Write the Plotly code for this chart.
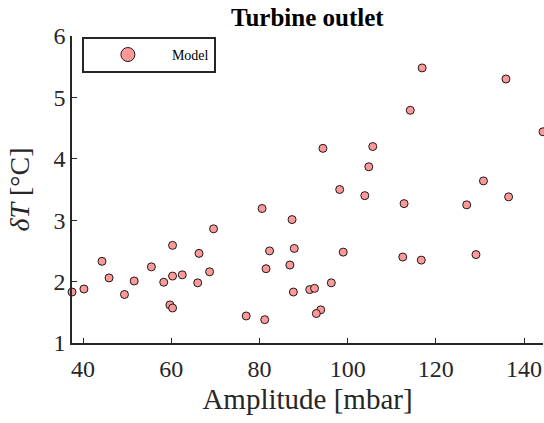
import plotly.graph_objects as go

amplitude = [37.5, 40.2, 44.3, 45.9, 49.4, 51.6, 55.5, 58.3, 60.3, 60.3, 59.7, 60.3,
             62.5, 66.3, 66.0, 68.7, 69.6,
             80.6, 87.4, 82.3, 87.9, 99.0, 81.5, 86.9, 96.3, 87.7, 91.4, 92.5, 93.9,
             92.9, 77.0, 81.2,
             112.8, 127.0, 112.5, 116.7, 129.1,
             94.4, 105.7, 104.8, 98.2, 103.9,
             116.9, 135.9, 114.2, 144.3, 130.8, 136.5]
delta_t = [1.83, 1.88, 2.33, 2.06, 1.79, 2.01, 2.24, 1.99, 2.59, 2.09, 1.62, 1.57,
           2.11, 2.46, 1.98, 2.16, 2.86,
           3.19, 3.01, 2.50, 2.54, 2.48, 2.21, 2.27, 1.98, 1.83, 1.87, 1.89, 1.54,
           1.48, 1.44, 1.38,
           3.27, 3.25, 2.40, 2.35, 2.44,
           4.17, 4.20, 3.87, 3.50, 3.40,
           5.48, 5.30, 4.79, 4.44, 3.64, 3.38]
x_ticks = [40, 60, 80, 100, 120, 140]
y_ticks = [1, 2, 3, 4, 5, 6]

FONT = "Liberation Serif"
AX = "#262626"
FILL = "#FF9999"

fig = go.Figure()
fig.add_trace(go.Scatter(
    x=amplitude, y=delta_t, mode="markers", showlegend=False,
    marker=dict(size=8, color=FILL, line=dict(color="#1a1a1a", width=1)),
    cliponaxis=False,
))
fig.add_trace(go.Scatter(
    x=[None], y=[None], mode="markers", name="Model",
    marker=dict(size=14, color=FILL, line=dict(color="#1a1a1a", width=1)),
))

fig.update_layout(
    width=544, height=423,
    margin=dict(l=72, r=1, t=36, b=80),
    paper_bgcolor="white", plot_bgcolor="white",
    font=dict(family=FONT, color=AX),
    title=dict(text="<b>Turbine outlet</b>", x=0.565, xanchor="center",
               y=0.96, yanchor="middle",
               font=dict(family=FONT, size=25, color="black")),
    legend=dict(x=0.021, y=0.997, xanchor="left", yanchor="top",
                bordercolor="#262626", borderwidth=2, bgcolor="white",
                font=dict(family=FONT, size=14, color="black"),
                itemwidth=78),
    xaxis=dict(range=[min(amplitude), max(amplitude)], tickvals=x_ticks,
               showgrid=False, zeroline=False, showline=True, linecolor=AX,
               linewidth=1.5, ticks="inside", ticklen=5, tickcolor=AX, tickwidth=1,
               ticklabelstandoff=3,
               tickfont=dict(family=FONT, size=24, color=AX),
               title=dict(text="Amplitude [mbar]", standoff=8,
                          font=dict(family=FONT, size=29, color=AX))),
    yaxis=dict(range=[1, 6], tickvals=y_ticks,
               showgrid=False, zeroline=False, showline=True, linecolor=AX,
               linewidth=1.5, ticks="inside", ticklen=5, tickcolor=AX, tickwidth=1,
               tickfont=dict(family=FONT, size=24, color=AX),
               title=dict(text="<i>δT</i> [°C]", standoff=16,
                          font=dict(family=FONT, size=28, color=AX))),
)

fig.write_html("out.html", config={"displayModeBar": False})
with open("out.html", "r", encoding="utf-8") as f:
    html = f.read()
html = html.replace("<head>", "<head><style>html,body{margin:0;padding:0;overflow:hidden;}</style>", 1)
with open("out.html", "w", encoding="utf-8") as f:
    f.write(html)
